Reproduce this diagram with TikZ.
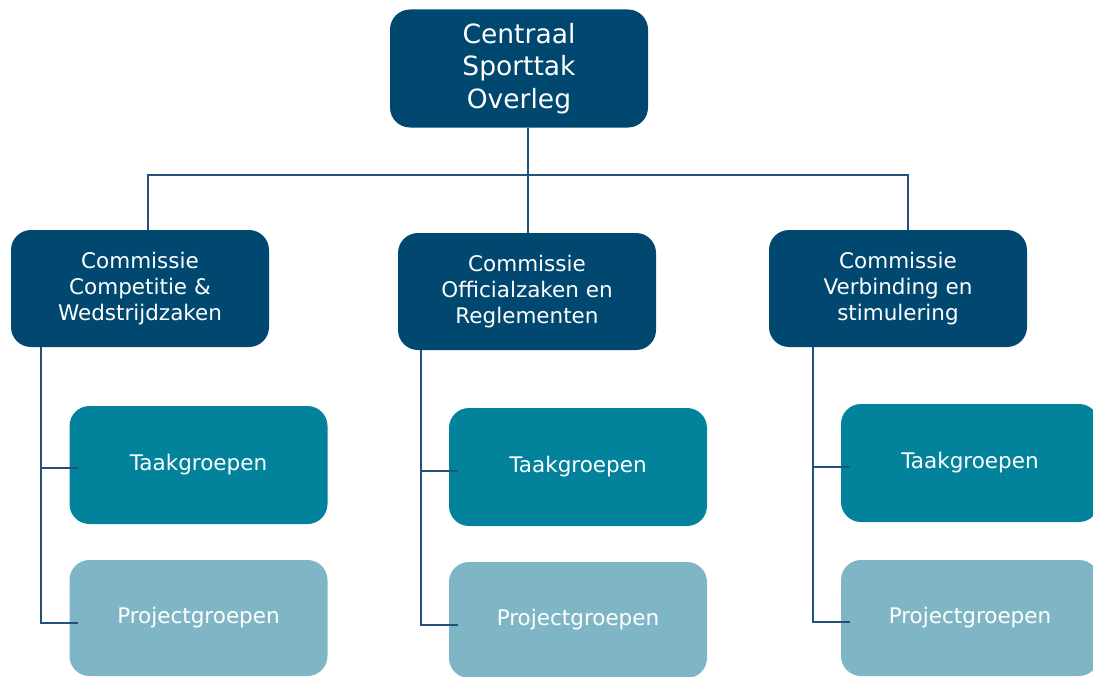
\documentclass[tikz,border=0pt]{standalone}
\usepackage{fontspec}
\setmainfont{DejaVu Sans}
\usetikzlibrary{calc}
\definecolor{navy}{RGB}{0,72,112}
\definecolor{teal}{RGB}{2,130,155}
\definecolor{paleteal}{RGB}{127,182,198}
\definecolor{linkcol}{RGB}{34,82,124}
\begin{document}
\begin{tikzpicture}[x=1pt,y=-1pt,
  box/.style={rounded corners=20pt, text=white, align=center, inner sep=0pt,
              minimum width=258pt, minimum height=117pt},
  topbox/.style={box, fill=navy, minimum height=118pt,
                 font=\fontsize{26.5}{32.5}\selectfont},
  commbox/.style={box, fill=navy, font=\fontsize{21.5}{26}\selectfont},
  taakbox/.style={box, fill=teal, minimum height=118pt, font=\fontsize{21.5}{26}\selectfont},
  projbox/.style={box, fill=paleteal, minimum height=116pt, font=\fontsize{21.5}{26}\selectfont},
  link/.style={draw=linkcol, line width=1.6pt}]
\path[use as bounding box, clip] (0,0) rectangle (1093,677);

% top level
\node[topbox] (top) at (519,68.5) {Centraal\\Sporttak\\Overleg};

% commissions
\node[commbox] (cl) at (140,288.5) {Commissie\\Competitie \&\\Wedstrijdzaken};
\node[commbox] (cm) at (527,291.5) {Commissie\\Officialzaken en\\Reglementen};
\node[commbox] (cr) at (898,288.5) {Commissie\\Verbinding en\\stimulering};

% working groups
\node[taakbox] (tl) at (198.5,465) {Taakgroepen};
\node[taakbox] (tm) at (578,467) {Taakgroepen};
\node[taakbox] (tr) at (970,463) {Taakgroepen};
\node[projbox] (pl) at (198.5,618) {Projectgroepen};
\node[projbox] (pm) at (578,620) {Projectgroepen};
\node[projbox] (pr) at (970,618) {Projectgroepen};

% tree from the central body to the commissions
\coordinate (bus) at (528,175);
\draw[link] (top.south -| bus) -- (bus |- cm.north);
\draw[link] ([xshift=8pt]cl.north) |- (bus) -| ([xshift=10pt]cr.north);

% commission to its groups
\draw[link] ($(cl.south west)+(30,0)$) |- ([xshift=9pt,yshift=-3pt]tl.west);
\draw[link] ($(cl.south west)+(30,0)$) |- ([xshift=9pt,yshift=-5pt]pl.west);
\draw[link] ($(cm.south west)+(23,0)$) |- ([xshift=9pt,yshift=-4pt]tm.west);
\draw[link] ($(cm.south west)+(23,0)$) |- ([xshift=9pt,yshift=-5pt]pm.west);
\draw[link] ($(cr.south west)+(44,0)$) |- ([xshift=9pt,yshift=-4pt]tr.west);
\draw[link] ($(cr.south west)+(44,0)$) |- ([xshift=9pt,yshift=-4pt]pr.west);
\end{tikzpicture}
\end{document}
